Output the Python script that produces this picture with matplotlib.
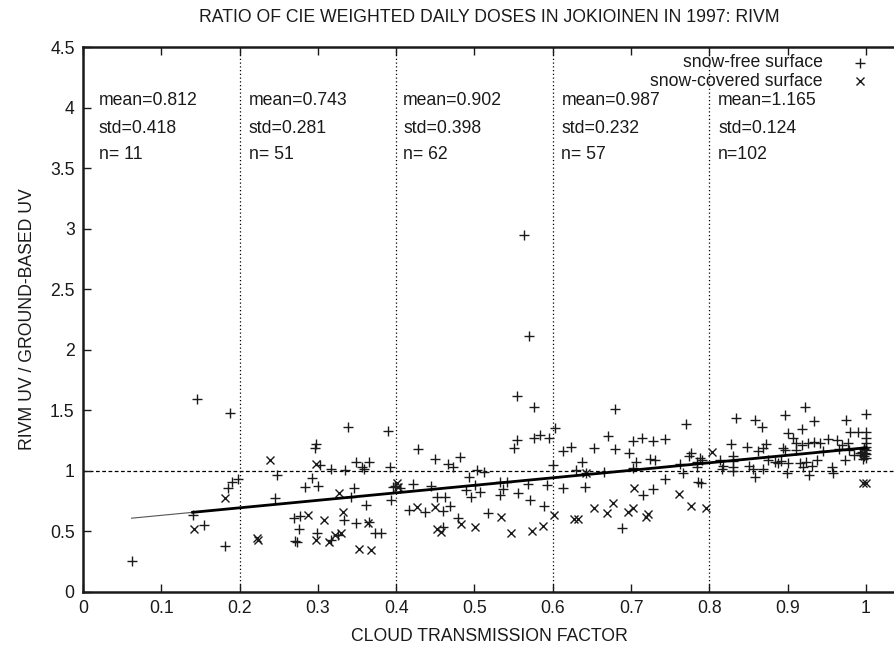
import matplotlib
matplotlib.use("Agg")
import matplotlib.pyplot as plt
import numpy as np

plt.rcParams['font.family'] = ['Liberation Sans', 'DejaVu Sans']

title = "RATIO OF CIE WEIGHTED DAILY DOSES IN JOKIOINEN IN 1997: RIVM"
xlabel = "CLOUD TRANSMISSION FACTOR"
ylabel = "RIVM UV / GROUND-BASED UV"

# snow-free surface (+)
free_x = [0.062, 0.140, 0.145, 0.1545, 0.181, 0.185, 0.190, 0.188, 0.198,
          0.245, 0.248, 0.2695, 0.277, 0.2763, 0.2708, 0.273, 0.283, 0.292, 0.296, 0.298, 0.299, 0.300,
          0.303, 0.3167, 0.317, 0.326, 0.333, 0.335, 0.339, 0.342, 0.3465, 0.3487, 0.349, 0.356, 0.359,
          0.362, 0.3653, 0.365, 0.373, 0.3806, 0.390, 0.392, 0.393, 0.3955,
          0.399, 0.405, 0.4163, 0.422, 0.428, 0.4368, 0.4444, 0.4496, 0.4517, 0.460, 0.460, 0.4623,
          0.4666, 0.4687, 0.473, 0.479, 0.4815, 0.489, 0.493, 0.495, 0.5006, 0.503, 0.507, 0.512,
          0.5176, 0.5326, 0.536, 0.5326, 0.542, 0.551, 0.554, 0.5547, 0.555, 0.563, 0.568, 0.570,
          0.571, 0.576, 0.5764, 0.5837, 0.589, 0.593, 0.5955,
          0.600, 0.603, 0.6126, 0.6134, 0.623, 0.6296, 0.637, 0.641, 0.6424, 0.652, 0.666, 0.670,
          0.679, 0.679, 0.688, 0.697, 0.703, 0.703, 0.706, 0.7135, 0.7156, 0.724, 0.7284, 0.7305,
          0.7284, 0.743, 0.743, 0.7625, 0.766, 0.770, 0.774, 0.776, 0.784, 0.784, 0.786, 0.788,
          0.789, 0.790,
          0.8135, 0.8157, 0.8177, 0.827, 0.830, 0.8305, 0.8297, 0.830, 0.834, 0.8476, 0.851, 0.856,
          0.858, 0.858, 0.8625, 0.867, 0.869, 0.869, 0.872, 0.875, 0.884, 0.888, 0.892, 0.894,
          0.8966, 0.897, 0.8995, 0.901, 0.901, 0.907, 0.911, 0.911, 0.9157, 0.918, 0.918, 0.920,
          0.922, 0.924, 0.926, 0.9276, 0.9306, 0.933, 0.933, 0.937, 0.941, 0.9447, 0.952, 0.956,
          0.9575, 0.9625, 0.966, 0.969, 0.973, 0.974, 0.9766, 0.9787, 0.980, 0.9847, 0.990, 0.992,
          0.995, 0.997, 1.000, 1.000, 1.000, 1.000, 1.000, 1.000, 1.000, 1.000, 0.998, 0.996,
          0.994, 0.999, 0.997]
free_y = [0.259, 0.636, 1.595, 0.554, 0.383, 0.862, 0.910, 1.477, 0.930,
          0.774, 0.967, 0.614, 0.628, 0.518, 0.424, 0.416, 0.865, 0.940, 1.187, 1.220, 0.485, 0.879,
          1.050, 0.430, 1.014, 0.471, 0.595, 1.008, 1.361, 0.783, 0.857, 0.568, 1.077, 1.030, 1.019,
          0.719, 0.581, 1.077, 0.485, 0.490, 1.333, 1.030, 0.760, 0.865,
          0.876, 0.857, 0.678, 0.890, 1.182, 0.659, 0.876, 1.097, 0.788, 0.669, 0.540, 0.788,
          1.058, 0.711, 1.036, 0.609, 1.113, 0.843, 0.953, 0.783, 0.884, 1.008, 0.829, 0.994,
          0.655, 0.912, 0.849, 0.802, 0.912, 1.187, 1.256, 1.620, 0.816, 2.945, 0.890, 2.116,
          0.760, 1.531, 1.270, 1.298, 0.713, 0.884, 1.270,
          1.050, 1.353, 1.168, 0.857, 1.201, 1.008, 1.077, 0.865, 0.986, 1.187, 0.994, 1.289,
          1.510, 1.179, 0.531, 1.151, 1.250, 1.022, 1.077, 1.270, 0.802, 1.097, 1.248, 1.091,
          0.849, 1.262, 0.934, 1.058, 0.986, 1.386, 1.124, 1.151, 1.077, 1.030, 0.912, 1.105,
          0.903, 1.091,
          1.091, 1.014, 1.041, 1.220, 1.124, 1.083, 1.030, 1.000, 1.440, 1.201, 1.041, 1.014,
          1.421, 0.953, 1.165, 1.361, 1.187, 1.014, 1.223, 1.091, 1.077, 1.063, 1.083, 1.187,
          1.174, 1.463, 0.986, 1.311, 1.063, 1.270, 1.234, 1.174, 1.063, 1.344, 1.215, 1.036,
          1.531, 1.077, 1.229, 0.967, 1.041, 1.408, 1.242, 1.091, 1.234, 1.165, 1.262, 1.030,
          0.981, 1.256, 1.179, 1.215, 1.091, 1.421, 1.234, 1.174, 1.317, 1.132, 1.317, 1.146,
          1.160, 1.120, 1.471, 1.317, 1.270, 1.234, 1.200, 1.170, 1.140, 1.110, 1.180, 1.100,
          1.130, 1.150, 1.190]

# snow-covered surface (x)
snow_x = [0.142, 0.181, 0.222, 0.223, 0.239, 0.2877, 0.297, 0.298, 0.308, 0.314, 0.322, 0.327,
          0.3295, 0.3317, 0.353, 0.3644, 0.3674, 0.4015, 0.4027, 0.427, 0.4496, 0.4525, 0.4568,
          0.4825, 0.5006, 0.5334, 0.546, 0.573, 0.587, 0.602, 0.627, 0.6326, 0.642, 0.652, 0.669,
          0.677, 0.6965, 0.703, 0.704, 0.7186, 0.7212, 0.7616, 0.777, 0.7957, 0.803, 0.9957, 1.000]
snow_y = [0.518, 0.774, 0.450, 0.430, 1.090, 0.636, 0.430, 1.058, 0.595, 0.410, 0.471, 0.815,
          0.485, 0.659, 0.355, 0.568, 0.347, 0.898, 0.865, 0.705, 0.705, 0.521, 0.498,
          0.558, 0.535, 0.617, 0.490, 0.507, 0.545, 0.636, 0.601, 0.601, 0.986, 0.697, 0.650,
          0.738, 0.659, 0.692, 0.862, 0.617, 0.642, 0.810, 0.711, 0.697, 1.160, 0.903, 0.903]

# linear fit
fit_intercept = 0.571
fit_slope = 0.62
fit_x_range = [0.062, 1.0]
fit_thin_end = 0.14

# bin statistics
bin_edges = [0.2, 0.4, 0.6, 0.8]
bin_text_x = [0.02, 0.212, 0.409, 0.611, 0.811]
bin_means = ["0.812", "0.743", "0.902", "0.987", "1.165"]
bin_stds = ["0.418", "0.281", "0.398", "0.232", "0.124"]
bin_ns = ["n= 11", "n= 51", "n= 62", "n= 57", "n=102"]

legend_labels = ["snow-free surface", "snow-covered surface"]

FS = 12.7
INK = '#1a1a1a'

fig = plt.figure(figsize=(8.95, 6.47), dpi=100)
ax = fig.add_axes([83/895, 55/647, 1 - 83/895, 545/647])

ax.set_xlim(0, 812/783)
ax.set_ylim(0, 4.5)

# reference lines
for xe in bin_edges:
    ax.axvline(xe, color='black', lw=0.9, ls=(0, (1, 2)), zorder=1)
ax.axhline(1.0, color='black', lw=0.9, ls=(0, (3, 2)), zorder=1)

ax.plot(free_x, free_y, ls='none', marker='+', ms=7, mew=1.0, color=INK, zorder=3)
ax.plot(snow_x, snow_y, ls='none', marker='x', ms=6, mew=1.0, color=INK, zorder=3)

fx = np.array(fit_x_range)
ax.plot(fx, fit_intercept + fit_slope * fx, color='#555555', lw=0.8, zorder=4)
fx2 = np.array([fit_thin_end, fit_x_range[1]])
ax.plot(fx2, fit_intercept + fit_slope * fx2, color='black', lw=2.0, zorder=4)

# stat texts
for xt, m, s, n in zip(bin_text_x, bin_means, bin_stds, bin_ns):
    ax.text(xt, 4.06, "mean=" + m, fontsize=FS, va='center', ha='left', color=INK)
    ax.text(xt, 3.83, "std=" + s, fontsize=FS, va='center', ha='left', color=INK)
    ax.text(xt, 3.61, n, fontsize=FS, va='center', ha='left', color=INK)

# legend (gnuplot style: text then marker)
ax.text(0.9447, 4.372, legend_labels[0], fontsize=FS, va='center', ha='right', color=INK)
ax.text(0.9447, 4.218, legend_labels[1], fontsize=FS, va='center', ha='right', color=INK)
ax.plot([0.992], [4.372], ls='none', marker='+', ms=7, mew=1.0, color=INK)
ax.plot([0.992], [4.218], ls='none', marker='x', ms=6, mew=1.0, color=INK)

ax.set_xticks(np.arange(0, 1.01, 0.1))
ax.set_xticklabels(["0", "0.1", "0.2", "0.3", "0.4", "0.5", "0.6", "0.7", "0.8", "0.9", "1"])
ax.set_yticks(np.arange(0, 4.51, 0.5))
ax.set_yticklabels(["0", "0.5", "1", "1.5", "2", "2.5", "3", "3.5", "4", "4.5"])
ax.tick_params(direction='in', length=6, width=1.0, top=True, right=False,
               labelsize=FS, colors=INK, pad=6)
for sp in ax.spines.values():
    sp.set_linewidth(1.8)
    sp.set_color(INK)
ax.spines['right'].set_visible(False)

ax.set_xlabel(xlabel, fontsize=FS, color=INK, labelpad=8)
ax.set_ylabel(ylabel, fontsize=FS, color=INK, labelpad=10)
fig.text(0.547, 1 - 18/647, title, fontsize=FS, ha='center', va='center', color=INK)

fig.savefig("out.png", dpi=100)
